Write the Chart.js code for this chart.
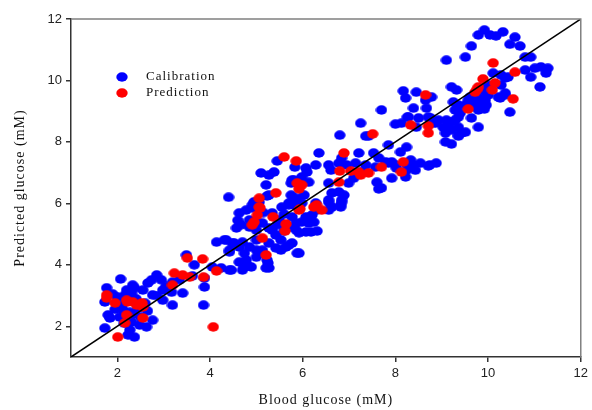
<!DOCTYPE html>
<html>
<head>
<meta charset="utf-8">
<script src="https://cdn.jsdelivr.net/npm/chart.js@4"></script>
<style>
  html, body { margin: 0; padding: 0; background: #fff; }
  #wrap { width: 592px; height: 410px; }
</style>
</head>
<body>
<div id="wrap"><canvas id="glucoseChart" width="592" height="410"></canvas></div>
<script>
// values (mM)
const calX = [1.77,1.73,1.73,1.80,1.84,2.07,2.33,2.37,2.31,2.20,2.12,2.05,2.31,2.27,2.37,2.23,2.63,2.48,2.76,2.55,
  2.66,2.74,2.85,2.95,2.76,2.98,2.98,3.17,3.19,3.41,3.19,3.34,3.49,3.66,3.62,3.88,3.88,3.86,2.10,2.27,
  2.20,2.00,1.90,2.15,2.40,2.45,2.35,2.60,2.65,2.15,2.25,1.95,2.50,2.85,3.05,
  4.14,4.35,4.05,4.24,4.42,4.40,4.42,4.52,4.70,4.63,4.74,4.70,4.78,5.00,5.21,5.25,4.85,5.00,5.13,5.27,
  5.42,5.53,5.70,5.77,5.88,4.78,4.63,4.91,5.06,5.70,4.85,5.13,5.34,4.91,5.00,5.10,5.27,5.38,5.23,5.27,
  4.67,4.57,4.48,4.31,4.42,4.63,4.74,4.80,5.00,5.13,5.23,5.27,4.85,5.00,5.06,5.27,5.42,5.53,5.64,5.92,
  5.75,5.86,5.98,5.55,5.70,5.92,5.77,5.75,5.77,5.98,5.21,5.34,5.49,4.46,4.89,5.45,5.83,4.95,5.15,5.45,
  5.60,5.60,4.60,
  7.70,7.25,6.80,7.36,7.42,8.00,8.13,8.24,8.11,6.35,6.84,6.78,7.21,7.53,7.64,7.79,7.85,7.92,8.00,8.02,
  7.85,7.57,7.36,7.14,6.95,6.56,6.61,6.28,6.07,6.09,6.13,5.81,5.75,6.56,6.78,6.89,6.99,7.10,7.21,7.27,
  7.60,7.64,7.70,7.92,8.24,8.22,6.28,6.30,6.56,6.63,6.84,6.82,6.03,5.86,5.77,6.07,6.20,6.56,6.63,5.81,
  5.98,6.56,6.82,6.84,5.86,6.13,6.24,6.07,5.92,6.18,6.31,8.22,8.33,8.39,8.54,8.43,8.74,8.88,8.26,
  9.79,9.92,10.04,10.17,10.32,10.58,9.64,10.47,10.69,9.10,9.51,10.80,10.92,10.80,11.01,11.14,11.29,11.25,10.92,11.12,
  10.11,10.28,10.37,10.43,10.28,10.37,10.22,10.00,9.85,9.94,10.00,9.72,9.61,9.57,9.68,9.79,9.94,9.85,9.96,9.51,
  9.72,9.79,9.21,9.32,9.25,9.36,9.29,9.36,9.40,9.92,10.26,10.37,10.47,9.64,9.79,9.51,9.36,9.10,9.21,9.29,
  8.93,8.86,9.03,9.14,8.76,8.78,8.67,8.71,8.50,8.45,8.39,8.17,8.45,8.22,8.65,8.78,8.28,9.08,9.21,9.36,
  9.08,9.21,9.36,9.43,8.71];
const calY = [3.25,2.79,1.94,2.37,2.27,3.54,3.34,3.25,3.08,2.85,2.53,2.30,2.14,1.88,1.65,1.72,1.98,2.04,2.20,3.18,
  3.41,3.51,3.67,3.51,3.02,2.85,3.18,3.11,2.69,3.08,3.44,3.51,4.32,4.00,3.64,3.57,3.28,2.69,2.69,2.46,
  3.18,2.95,3.05,3.00,2.90,2.60,2.40,2.75,2.50,2.10,2.30,2.55,2.30,3.00,3.30,
  4.74,4.81,3.93,3.90,3.83,6.20,4.42,4.71,4.74,4.09,3.93,3.83,4.16,4.25,3.90,4.06,4.58,4.81,4.48,4.71,
  4.55,4.48,4.64,4.71,4.38,5.78,5.69,5.95,6.04,5.95,5.23,5.36,5.13,5.85,6.00,6.99,6.92,7.02,6.24,6.27,
  5.30,5.20,4.71,4.81,4.48,4.58,4.38,4.00,4.48,4.38,4.16,3.90,5.46,5.13,5.36,5.20,4.97,4.81,4.58,4.38,
  5.23,5.13,5.39,5.88,6.01,5.85,5.56,6.27,6.76,6.86,6.60,5.69,5.46,3.83,3.93,7.38,7.18,6.05,5.70,5.30,
  5.10,5.65,5.45,
  9.04,8.61,8.22,8.19,8.19,8.58,8.61,7.83,7.67,7.64,7.48,7.31,7.64,7.64,7.48,7.35,7.31,7.35,7.25,7.15,
  7.90,7.18,7.25,7.31,7.25,7.25,7.08,7.25,7.15,7.02,6.69,6.76,6.66,6.66,6.37,6.27,6.66,6.82,6.99,7.02,
  6.69,6.47,6.50,6.82,7.08,6.86,6.01,5.78,6.11,6.34,6.04,5.88,6.27,6.17,6.01,5.56,5.62,5.78,5.88,5.95,
  6.01,6.04,5.95,6.11,5.36,5.36,5.39,5.07,5.04,5.07,5.10,7.31,7.41,7.25,7.31,7.08,7.25,7.31,8.81,
  11.48,11.64,11.48,11.45,11.58,11.41,11.12,11.18,11.12,10.66,10.76,10.76,10.76,10.34,10.40,10.44,10.40,10.24,10.11,9.79,
  10.24,10.18,10.08,10.11,9.85,9.59,9.46,9.85,9.75,9.62,9.53,9.59,9.46,9.36,9.30,9.43,9.36,9.20,9.20,9.20,
  9.14,9.04,9.79,9.69,9.30,9.20,9.04,8.81,8.94,9.07,9.43,9.53,8.97,8.78,8.48,8.32,8.22,8.71,8.65,8.71,
  8.71,8.61,8.48,8.55,8.78,8.61,9.10,8.81,8.78,8.48,9.10,9.66,9.62,9.43,9.36,9.46,8.81,8.29,8.39,8.48,
  8.00,7.93,8.19,8.29,7.22];

const predX = [1.77,1.77,1.95,2.20,2.22,2.33,2.42,2.53,2.55,2.20,2.16,2.55,2.01,3.19,3.23,3.41,3.56,3.51,3.84,3.86,
  4.14,4.07,4.91,4.95,5.02,5.06,5.13,5.21,5.36,5.62,5.64,5.06,5.42,5.08,5.60,5.86,5.88,5.92,5.94,5.98,
  5.92,6.24,6.30,6.41,6.78,6.89,6.80,7.04,7.21,7.25,7.42,7.70,8.17,8.13,7.51,8.65,8.33,8.71,8.71,9.57,
  9.79,9.72,9.77,10.15,10.09,9.89,10.11,10.58,10.54];
const predY = [3.02,2.92,2.76,2.85,2.79,2.79,2.69,2.76,2.63,2.37,2.11,2.27,1.65,3.34,3.73,3.67,3.60,4.22,4.19,3.60,
  3.80,1.98,5.30,5.39,5.62,5.88,4.87,4.32,5.56,5.10,5.33,6.17,6.34,5.85,7.51,7.38,6.66,6.47,5.82,6.60,
  5.78,5.88,5.95,5.78,6.69,7.64,7.05,7.05,7.02,6.92,6.99,7.18,7.35,7.02,8.26,9.53,8.55,8.52,8.29,9.07,
  9.79,9.62,9.72,9.92,9.69,10.05,10.57,10.27,9.40];

const lineEnds = [1, 12];
const axisTicks = [2, 4, 6, 8, 10, 12];
const seriesNames = ['Calibration', 'Prediction'];

function toPoints(xs, ys) {
  return xs.map((x, i) => ({ x: x, y: ys[i] }));
}

// slightly flattened dot, like the original markers
function dot(color) {
  const c = document.createElement('canvas');
  c.width = 12;
  c.height = 10;
  const g = c.getContext('2d');
  g.fillStyle = color;
  g.beginPath();
  g.ellipse(6, 5, 5.7, 4.7, 0, 0, Math.PI * 2);
  g.fill();
  return c;
}

// axis titles, frame and in-plot legend
const decorations = {
  id: 'decorations',
  afterDraw(chart) {
    const ctx = chart.ctx;
    const a = chart.chartArea;
    ctx.save();
    ctx.strokeStyle = '#808080';
    ctx.lineWidth = 1.5;
    ctx.beginPath();
    ctx.moveTo(a.left, a.top);
    ctx.lineTo(a.right, a.top);
    ctx.lineTo(a.right, a.bottom);
    ctx.stroke();

    ctx.fillStyle = '#111';
    ctx.letterSpacing = '1px';
    ctx.font = '14px "Liberation Serif", serif';
    ctx.textAlign = 'center';
    ctx.textBaseline = 'middle';
    ctx.fillText('Blood glucose (mM)', (a.left + a.right) / 2, 400);
    ctx.translate(20, (a.top + a.bottom) / 2);
    ctx.rotate(-Math.PI / 2);
    ctx.fillText('Predicted glucose (mM)', 0, 0);
    ctx.restore();

    ctx.save();
    ctx.letterSpacing = '1px';
    ctx.font = '13px "Liberation Serif", serif';
    ctx.textBaseline = 'middle';
    ctx.textAlign = 'left';
    const cols = ['#0000ff', '#ff0000'];
    seriesNames.forEach((name, i) => {
      const y = a.top + 58 + i * 16;
      ctx.fillStyle = cols[i];
      ctx.beginPath();
      ctx.ellipse(a.left + 51, y, 5.7, 4.7, 0, 0, Math.PI * 2);
      ctx.fill();
      ctx.fillStyle = '#111';
      ctx.fillText(name, a.left + 75, y);
    });
    ctx.restore();
  }
};

const tickFont = { family: '"Liberation Sans", Arial, sans-serif', size: 13 };

new Chart(document.getElementById('glucoseChart'), {
  type: 'scatter',
  data: {
    datasets: [
      {
        type: 'line',
        label: 'y = x',
        data: toPoints(lineEnds, lineEnds),
        borderColor: '#000',
        borderWidth: 1.5,
        pointRadius: 0,
        fill: false
      },
      {
        label: seriesNames[1],
        data: toPoints(predX, predY),
        pointStyle: dot('#ff0000'),
        pointRadius: 5
      },
      {
        label: seriesNames[0],
        data: toPoints(calX, calY),
        pointStyle: dot('#0000ff'),
        pointRadius: 5
      }
    ]
  },
  options: {
    responsive: false,
    animation: false,
    layout: { padding: { top: 19, right: 9, left: 0, bottom: 0 } },
    plugins: { legend: { display: false }, tooltip: { enabled: false } },
    scales: {
      x: {
        type: 'linear',
        min: 1,
        max: 12,
        afterBuildTicks: s => { s.ticks = axisTicks.map(v => ({ value: v })); },
        afterFit: s => { s.height = 53; },
        grid: { drawOnChartArea: false, drawTicks: true, tickLength: 5, color: '#333', lineWidth: 1.5 },
        border: { color: '#333', width: 1.5 },
        ticks: { font: tickFont, color: '#222', padding: 4 }
      },
      y: {
        type: 'linear',
        min: 1,
        max: 12,
        afterBuildTicks: s => { s.ticks = axisTicks.map(v => ({ value: v })); },
        afterFit: s => { s.width = 71; },
        grid: { drawOnChartArea: false, drawTicks: true, tickLength: 5, color: '#333', lineWidth: 1.5 },
        border: { color: '#333', width: 1.5 },
        ticks: { font: tickFont, color: '#222', padding: 4 }
      }
    }
  },
  plugins: [decorations]
});
</script>
</body>
</html>
